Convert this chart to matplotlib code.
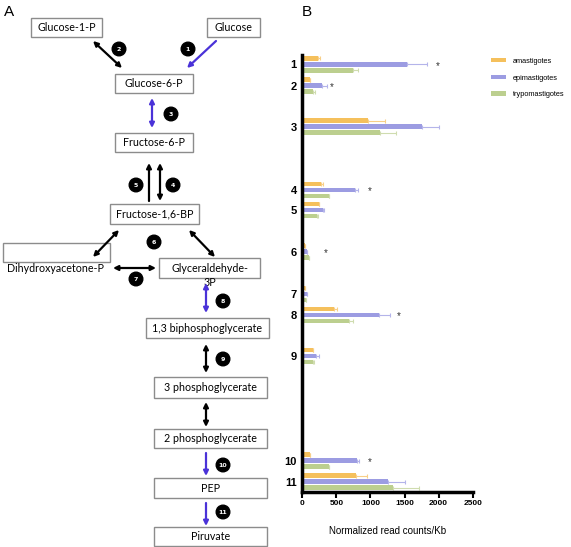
import numpy as np
import matplotlib
matplotlib.use('Agg')
import matplotlib.pyplot as plt
from matplotlib.patches import Rectangle, Circle

# ---- panel B data ----
steps     = ['1', '2', '3', '4', '5', '6', '7', '8', '9', '10', '11']
stages    = ['amastigotes', 'epimastigotes', 'trypomastigotes']
amast     = [235, 113, 958, 274, 250, 40, 40, 465, 162, 113, 787]
amast_err = [25, 7, 254, 33, 0, 0, 0, 48, 0, 0, 166]
epi       = [1530, 284, 1760, 777, 299, 64, 64, 1125, 196, 797, 1261]
epi_err   = [294, 73, 250, 34, 24, 0, 0, 161, 49, 34, 245]
trypo     = [739, 162, 1139, 396, 211, 98, 50, 680, 152, 396, 1335]
trypo_err = [73, 24, 235, 0, 24, 0, 0, 59, 24, 0, 376]
star_steps = ['1', '2', '4', '6', '8', '10']
star_x     = [1990, 430, 983, 343, 1422, 983]

# rows are lined up with the pathway in panel A (pixel rows)
row_y = [64.3, 85.7, 126.7, 190, 210, 251.7, 294, 315, 356, 460.7, 481.7]

colors = ['#f5c05c', '#9c9ce2', '#bccf8f']
err_colors = ['#f8cf88', '#b4b4ea', '#cfdcaf']
blue = '#4a32d8'

W, H = 571, 547
fig = plt.figure(figsize=(W/100, H/100), dpi=100)

# ---- panel A : pathway drawn in pixel coordinates ----
ax0 = fig.add_axes([0, 0, 1, 1])
ax0.set_xlim(0, W)
ax0.set_ylim(H, 0)
ax0.axis('off')

FONT = 'Lato'
FS = 7.7
boxes = [
    ('Glucose-1-P', 31, 18, 102, 37),
    ('Glucose', 207, 18, 260, 37),
    ('Glucose-6-P', 115, 74, 193, 93),
    ('Fructose-6-P', 115, 133, 193, 152),
    ('Fructose-1,6-BP', 110, 204, 199, 224),
    ('', 3, 243, 110, 262),
    ('', 159, 258, 260, 278),
    ('1,3 biphosphoglycerate', 146, 318, 269, 338),
    ('3 phosphoglycerate', 154, 377, 267, 398),
    ('2 phosphoglycerate', 154, 429, 267, 448),
    ('PEP', 154, 478, 267, 498),
    ('Piruvate', 154, 527, 267, 546),
]
for lab, x0, y0, x1, y1 in boxes:
    ax0.add_patch(Rectangle((x0, y0), x1 - x0, y1 - y0, fill=False,
                            ec='#8c8c8c', lw=1.0))
    if lab:
        ax0.text((x0 + x1) / 2, (y0 + y1) / 2, lab, ha='center', va='center',
                 fontsize=FS, family=FONT)
ax0.text(56, 268, 'Dihydroxyacetone-P', ha='center', va='center', fontsize=FS, family=FONT)
ax0.text(210, 268, 'Glyceraldehyde-', ha='center', va='center', fontsize=FS, family=FONT)
ax0.text(210, 282, '3P', ha='center', va='center', fontsize=FS, family=FONT)

def arrow(x0, y0, x1, y1, col='black', style='<|-|>'):
    ax0.annotate('', xy=(x1, y1), xytext=(x0, y0),
                 arrowprops=dict(arrowstyle=style, color=col, lw=1.6,
                                 mutation_scale=7, shrinkA=0, shrinkB=0))

arrow(93, 41, 122, 68)
arrow(216, 41, 187, 68, blue, '-|>')
arrow(152, 98, 152, 128, blue)
arrow(149, 201, 149, 163, 'black', '-|>')
arrow(160, 163, 160, 201)
arrow(119, 230, 93, 257)
arrow(189, 230, 215, 257)
arrow(113, 268, 156, 268)
arrow(206, 283, 206, 313, blue)
arrow(206, 344, 206, 373)
arrow(206, 402, 206, 427)
arrow(206, 453, 206, 476, blue, '-|>')
arrow(206, 503, 206, 526, blue, '-|>')

circles = [('1', 188, 49), ('2', 119, 49), ('3', 171, 114), ('4', 173, 185),
           ('5', 136, 185), ('6', 154, 242), ('7', 136, 279), ('8', 223, 301),
           ('9', 223, 359), ('10', 223, 465), ('11', 223, 512)]
for n, cx, cy in circles:
    ax0.add_patch(Circle((cx, cy), 6.8, color='black'))
    ax0.text(cx, cy + 0.3, n, color='white', ha='center', va='center',
             fontsize=4.5, fontweight='bold', family='DejaVu Sans')

ax0.text(4, 12, 'A', fontsize=11, family='Liberation Sans', va='center')
ax0.text(302, 12, 'B', fontsize=11, family='Liberation Sans', va='center')

# ---- panel B : bar chart ----
left, right, top, bottom = 302.3, 472.7, 55, 491.7
ax = fig.add_axes([left / W, 1 - bottom / H, (right - left) / W, (bottom - top) / H])
ax.patch.set_alpha(0)

y = np.array(row_y)
vals = [amast, epi, trypo]
errs = [amast_err, epi_err, trypo_err]
offs = [-6, 0, 6]
for v, e, off, c, ec, lab in zip(vals, errs, offs, colors, err_colors, stages):
    ax.barh(y + off, v, height=4.6, color=c, label=lab)
    ax.errorbar(v, y + off, xerr=[np.zeros(len(v)), e], fmt='none',
                ecolor=ec, elinewidth=0.8, capsize=1.2, capthick=0.8)

for s, sx in zip(star_steps, star_x):
    ax.text(sx, row_y[steps.index(s)] + 1.5, '*', ha='center', va='center',
            fontsize=7, color='#333333', family='Liberation Sans')

ax.set_xlim(0, 2500)
ax.set_ylim(bottom, top)
ax.set_xticks([0, 500, 1000, 1500, 2000, 2500])
ax.set_yticks(row_y)
ax.set_yticklabels(steps, fontsize=8, fontweight='bold', family='Liberation Sans')
ax.tick_params(axis='y', length=0, pad=4)
ax.tick_params(axis='x', length=4, width=1.5, labelsize=6, pad=2)
for t in ax.get_xticklabels():
    t.set_family('Liberation Sans')
    t.set_fontweight('bold')
for sp in ['top', 'right']:
    ax.spines[sp].set_visible(False)
ax.spines['left'].set_linewidth(2.5)
ax.spines['bottom'].set_linewidth(2.5)
ax.set_xlabel('Normalized read counts/Kb', fontsize=7, family='Liberation Sans',
              labelpad=14)

ax.legend(loc='upper left', bbox_to_anchor=(491 / W, 1 - 58 / H),
          bbox_transform=fig.transFigure, frameon=False, borderaxespad=0,
          borderpad=0, handlelength=2.0, handleheight=0.5, labelspacing=1.3,
          handletextpad=1.0, prop={'family': 'Liberation Sans', 'size': 5.3})

fig.savefig('out.png', dpi=100)
